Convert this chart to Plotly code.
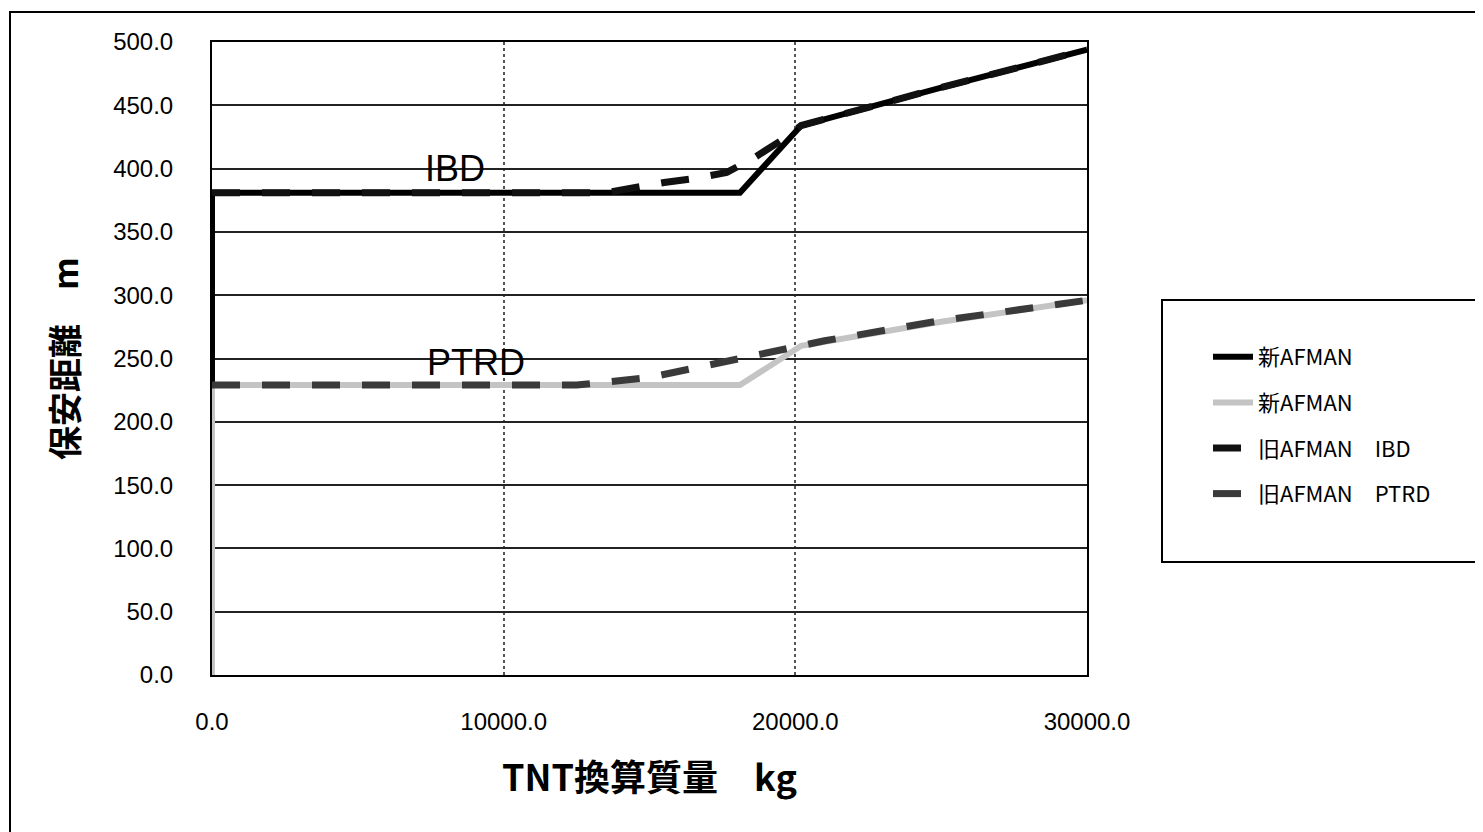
import plotly.graph_objects as go

# ---- data ----
new_ibd_x = [0, 0, 18100, 20200, 25000, 30000]
new_ibd_y = [0, 381, 381, 434, 464, 494]

new_ptrd_x = [0, 0, 18100, 20200, 25000, 30000]
new_ptrd_y = [0, 229, 229, 260, 279, 296]

old_ibd_x = [0, 13500, 15500, 16500, 17650, 18550, 19500, 20200, 25000, 30000]
old_ibd_y = [381, 381, 389, 392, 397, 408, 422, 434, 464, 494]

old_ptrd_x = [0, 12500, 15000, 17000, 19000, 21000, 25000, 30000]
old_ptrd_y = [229, 229, 235, 245, 254, 264, 280, 296]

series_names = ["新AFMAN", "新AFMAN", "旧AFMAN　IBD", "旧AFMAN　PTRD"]

x_ticks = [0, 10000, 20000, 30000]
x_tick_text = ["0.0", "10000.0", "20000.0", "30000.0"]
y_ticks = [0, 50, 100, 150, 200, 250, 300, 350, 400, 450, 500]
y_tick_text = ["%.1f" % v for v in y_ticks]

FONT = "Liberation Sans, Arial, sans-serif"
CJK = "Noto Sans CJK JP, Liberation Sans, sans-serif"

fig = go.Figure()
fig.add_trace(go.Scatter(x=new_ibd_x, y=new_ibd_y, mode="lines", name=series_names[0],
                         line=dict(color="#000000", width=6), legendgroup="a"))
fig.add_trace(go.Scatter(x=new_ptrd_x, y=new_ptrd_y, mode="lines", name=series_names[1],
                         line=dict(color="#c4c4c4", width=6), legendgroup="b"))
fig.add_trace(go.Scatter(x=old_ibd_x, y=old_ibd_y, mode="lines", name=series_names[2],
                         line=dict(color="#111111", width=7, dash="28px,22px"), legendgroup="c"))
fig.add_trace(go.Scatter(x=old_ptrd_x, y=old_ptrd_y, mode="lines", name=series_names[3],
                         line=dict(color="#3a3a3a", width=7, dash="28px,22px"), legendgroup="d"))

fig.add_annotation(x=8330, y=400, text="IBD", showarrow=False,
                   font=dict(family=FONT, size=36, color="#000"))
fig.add_annotation(x=9050, y=247, text="PTRD", showarrow=False,
                   font=dict(family=FONT, size=36, color="#000"))

OFF = 8  # page body margin
# target plot area in screen pixels: x 212..1087, y 42..675
PL, PR, PT, PB = 212, 1087, 42, 675
FIG_W, FIG_H = 1483 - OFF, 832 - OFF
L, T = PL - OFF, PT - OFF
W, H = PR - PL, PB - PT
R, B = FIG_W - L - W, FIG_H - T - H

def px(xs):
    return (xs - PL) / W

def py(ys):
    return (PB - ys) / H

# outer frame
fig.add_shape(type="rect", xref="paper", yref="paper",
              x0=px(10), x1=px(1495), y0=py(845), y1=py(12),
              line=dict(color="#000", width=2), layer="below")
# legend box
fig.add_shape(type="rect", xref="paper", yref="paper",
              x0=px(1162), x1=px(1480), y0=py(562), y1=py(300),
              line=dict(color="#000", width=2), fillcolor="rgba(0,0,0,0)")

fig.update_layout(
    width=FIG_W, height=FIG_H,
    margin=dict(l=L, r=R, t=T, b=B),
    paper_bgcolor="white", plot_bgcolor="white",
    font=dict(family=FONT, size=24, color="#000"),
    showlegend=True,
    legend=dict(x=px(1208), y=py(336), xanchor="left", yanchor="top",
                font=dict(family=CJK, size=22, color="#000"),
                bgcolor="rgba(0,0,0,0)", borderwidth=0,
                tracegroupgap=14, itemwidth=40),
    xaxis=dict(range=[0, 30000], tickmode="array", tickvals=x_ticks, ticktext=x_tick_text,
               showgrid=True, gridcolor="#555", gridwidth=1.5, griddash="dot",
               showline=True, linecolor="#000", linewidth=2, mirror=True,
               zeroline=False, ticks="", ticklabelstandoff=24,
               tickfont=dict(family=FONT, size=24),
               title=dict(text="<b>TNT換算質量　kg</b>", standoff=32,
                          font=dict(family=CJK, size=36, color="#000"))),
    yaxis=dict(range=[0, 500], tickmode="array", tickvals=y_ticks, ticktext=y_tick_text,
               showgrid=True, gridcolor="#222", gridwidth=2,
               showline=True, linecolor="#000", linewidth=2, mirror=True,
               zeroline=False, ticks="", ticklabelstandoff=32,
               tickfont=dict(family=FONT, size=24),
               title=dict(text="<b>保安距離　m</b>", standoff=24,
                          font=dict(family=CJK, size=34, color="#000"))),
)

fig.write_html("out.html")
